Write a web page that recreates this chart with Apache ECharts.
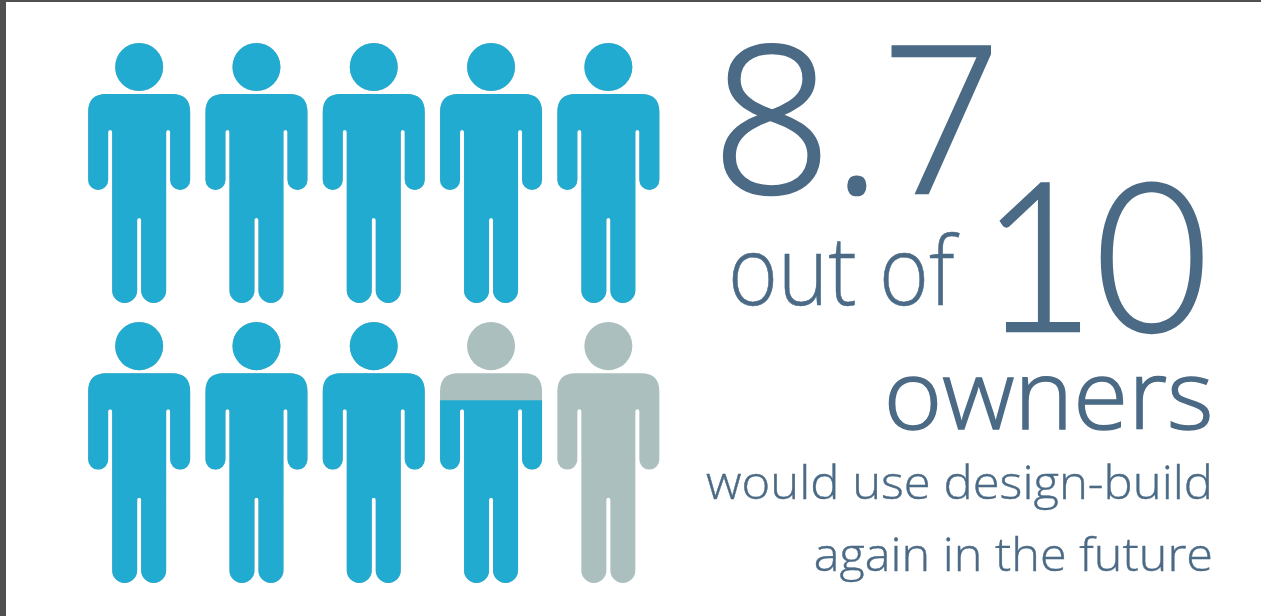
<!DOCTYPE html>
<html>
<head>
<meta charset="utf-8">
<style>html,body{margin:0;padding:0;background:#fff}#chart{width:1261px;height:616px}</style>
<script src="https://cdn.jsdelivr.net/npm/echarts@6/dist/echarts.min.js"></script>
</head>
<body>
<div id="chart"></div>
<script>
// Share of each person figure that is filled, row by row (8.7 out of 10 in total)
const people = ['1', '2', '3', '4', '5'];
const topRowFilled = [1, 1, 1, 1, 1];
const bottomRowFilled = [1, 1, 1, 0.7, 0];
const wholeFigure = [1, 1, 1, 1, 1];

const colors = { filled: '#22abd1', empty: '#abbfbf', text: '#4b6a85', frame: '#505050' };

// Person silhouette: head, shoulders, two arms and two legs
const personPath = 'path://M51 0A24 24 0 1 1 51 48A24 24 0 1 1 51 0Z' +
  'M18 51L84 51Q102 51 102 69L102 137A10 10 0 0 1 82 137L82 89A2 2 0 0 0 78 89' +
  'L78 247.5A12.5 12.5 0 0 1 53 247.5L53 177A2 2 0 0 0 49 177L49 247.5A12.5 12.5 0 0 1 24 247.5' +
  'L24 89A2 2 0 0 0 20 89L20 137A10 10 0 0 1 0 137L0 69Q0 51 18 51Z';

const rows = [
  { filled: topRowFilled, top: 43, height: 260 },
  { filled: bottomRowFilled, top: 322, height: 261 }
];

function pictorial(data, color, gridIndex, clip, z) {
  return {
    type: 'pictorialBar',
    xAxisIndex: gridIndex,
    yAxisIndex: gridIndex,
    data: data,
    symbol: personPath,
    symbolSize: [102, '100%'],
    symbolPosition: 'start',
    symbolBoundingData: 1,
    symbolClip: clip,
    barGap: '-100%',
    itemStyle: { color: color },
    silent: true,
    animation: false,
    z: z
  };
}

// Headline text, each line placed by its right or left edge and bottom
const lines = [
  { text: '8.7', x: 712, y: 237, size: 205, align: 'left', scale: 1.023, family: 'Open Sans', bold: 2.5 },
  { text: '10', x: 981, y: 368, size: 207, align: 'left', scale: 0.948, family: 'Lato', bold: 2.5 },
  { text: 'out of', x: 728, y: 325, size: 95, align: 'left', scale: 0.897, family: 'Open Sans', bold: 0.5 },
  { text: 'owners', x: 1213.5, y: 450, size: 96, align: 'right', scale: 1.04, family: 'Open Sans', bold: 1.5 },
  { text: 'would use design-build', x: 1213, y: 509, size: 46, align: 'right', scale: 1.065, family: 'Open Sans', bold: 0.4 },
  { text: 'again in the future', x: 1213, y: 581, size: 46, align: 'right', scale: 1.056, family: 'Open Sans', bold: 0.4 }
];

const chart = echarts.init(document.getElementById('chart'), null, { renderer: 'canvas' });
chart.setOption({
  animation: false,
  backgroundColor: '#ffffff',
  grid: rows.map(r => ({ left: 80.5, width: 586.5, top: r.top, height: r.height })),
  xAxis: rows.map((r, i) => ({ type: 'category', gridIndex: i, data: people, show: false })),
  yAxis: rows.map((r, i) => ({ type: 'value', gridIndex: i, min: 0, max: 1, show: false })),
  series: rows.flatMap((r, i) => [
    pictorial(wholeFigure, colors.empty, i, false, 2),
    pictorial(r.filled, colors.filled, i, true, 3)
  ]),
  graphic: [
    { type: 'rect', shape: { x: 0, y: 0, width: 1261, height: 2 }, style: { fill: colors.frame } },
    { type: 'rect', shape: { x: 0, y: 0, width: 6, height: 616 }, style: { fill: colors.frame } }
  ].concat(lines.map(l => ({
    type: 'text',
    x: l.x,
    y: l.y,
    scaleX: l.scale,
    style: {
      text: l.text,
      x: 0,
      y: 0,
      textAlign: l.align,
      textVerticalAlign: 'bottom',
      fill: colors.text,
      stroke: colors.text,
      lineWidth: l.bold,
      font: '300 ' + l.size + 'px "' + l.family + '", sans-serif'
    }
  })))
});
</script>
</body>
</html>
